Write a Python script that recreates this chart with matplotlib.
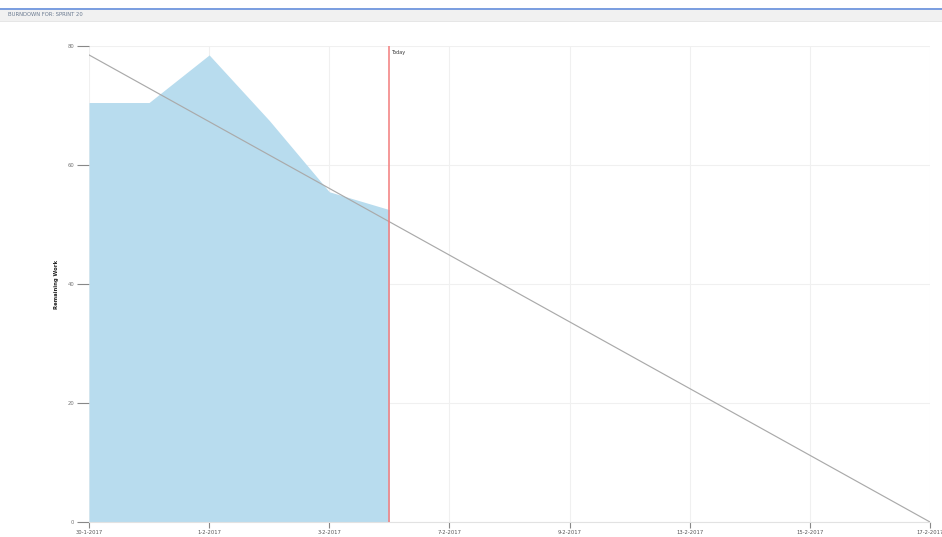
import matplotlib
matplotlib.use("Agg")
import matplotlib.pyplot as plt
from matplotlib.patches import Rectangle

# Sprint working days (weekends skipped)
workdays = ["30-1-2017", "31-1-2017", "1-2-2017", "2-2-2017", "3-2-2017",
            "6-2-2017", "7-2-2017", "8-2-2017", "9-2-2017", "10-2-2017",
            "13-2-2017", "14-2-2017", "15-2-2017", "16-2-2017", "17-2-2017"]
remaining = [70.5, 70.5, 78.5, 67.5, 55.5, 52.5]
ideal_start = 78.5
ideal_end = 0
today_index = 5
y_ticks = [0, 20, 40, 60, 80]
title = "BURNDOWN FOR: SPRINT 20"

W, H = 942, 537
fig = plt.figure(figsize=(W / 100, H / 100), dpi=100)
fig.patch.set_facecolor("white")

# header strip
fig.patches.append(Rectangle((0, 1 - 21 / H), 1, 12 / H, transform=fig.transFigure,
                             facecolor="#f1f1f1", edgecolor="none", zorder=0))
fig.patches.append(Rectangle((0, 1 - 9.5 / H), 1, 2 / H, transform=fig.transFigure,
                             facecolor="#7c9fe0", edgecolor="none", zorder=1))
fig.patches.append(Rectangle((0, 1 - 22 / H), 1, 1 / H, transform=fig.transFigure,
                             facecolor="#e6e6e6", edgecolor="none", zorder=1))
fig.text(8 / W, 1 - 15 / H, title, fontsize=3.8, color="#6a7a90", va="center", ha="left")

left, right, top, bottom = 89, 930, 46, 522
ax = fig.add_axes([left / W, 1 - bottom / H, (right - left) / W, (bottom - top) / H])

n = len(workdays) - 1
x_actual = list(range(len(remaining)))
ax.fill_between(x_actual, remaining, 0, color="#b8dcee", linewidth=0, zorder=2)
ax.plot([0, n], [ideal_start, ideal_end], color="#aaaaaa", linewidth=0.85, zorder=3)
ax.axvline(today_index, color="#f37c7c", linewidth=1.1, zorder=4)
ax.text(today_index + 0.03, 79.4, "Today", fontsize=3.5, color="#333333", ha="left", va="top")

ax.set_xlim(0, n)
ax.set_ylim(0, 80)
tick_pos = list(range(0, n + 1, 2))
ax.set_xticks(tick_pos)
ax.set_xticklabels([workdays[i] for i in tick_pos])
ax.set_yticks(y_ticks)
ax.grid(True, color="#f0f0f0", linewidth=0.8, zorder=0)
ax.set_axisbelow(True)

for s in ["top", "right", "left"]:
    ax.spines[s].set_visible(False)
ax.spines["bottom"].set_color("#e2e2e2")
ax.spines["bottom"].set_linewidth(0.8)

ax.tick_params(axis="x", length=4, width=0.8, color="#888888", labelsize=3.8,
               labelcolor="#555555", pad=2)
ax.tick_params(axis="y", length=9, width=0.8, color="#888888", labelsize=3.8,
               labelcolor="#777777", pad=1.5)
ax.set_ylabel("Remaining Work", fontsize=3.8, fontweight="bold", color="#222222", labelpad=6)

fig.savefig("out.png", dpi=100, facecolor="white")
